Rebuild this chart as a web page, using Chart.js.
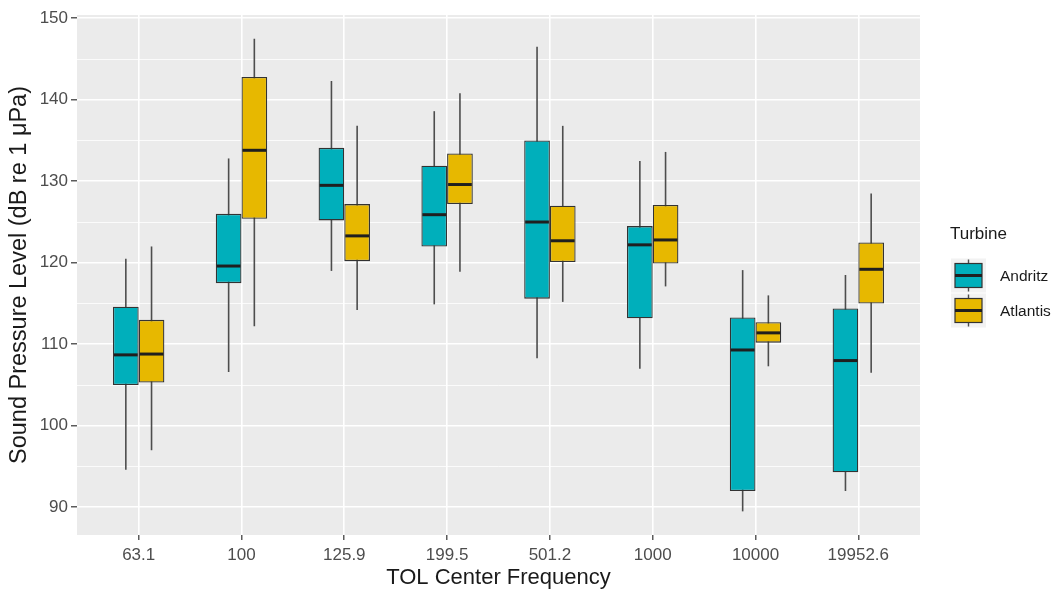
<!DOCTYPE html>
<html>
<head>
<meta charset="utf-8">
<script src="https://cdn.jsdelivr.net/npm/chart.js@4/dist/chart.umd.min.js"></script>
<style>
  html, body { margin: 0; padding: 0; background: #fff; }
  #wrap { width: 1056px; height: 591px; }
</style>
</head>
<body>
<div id="wrap"><canvas id="chart" width="1056" height="591"></canvas></div>
<script>
// x categories: TOL center frequency
const frequencies = ['63.1', '100', '125.9', '199.5', '501.2', '1000', '10000', '19952.6'];

// Andritz box stats (dB re 1 µPa)
const andritzMin    = [94.6, 106.6, 119.0, 114.9, 108.3, 107.0, 89.5, 92.0];
const andritzQ1     = [105.0, 117.5, 125.2, 122.0, 115.6, 113.2, 92.0, 94.3];
const andritzMedian = [108.7, 119.6, 129.5, 125.9, 125.0, 122.2, 109.3, 108.0];
const andritzQ3     = [114.6, 126.0, 134.1, 131.9, 135.0, 124.5, 113.3, 114.4];
const andritzMax    = [120.5, 132.8, 142.3, 138.6, 146.5, 132.5, 119.1, 118.5];

// Atlantis box stats
const atlantisMin    = [97.0, 112.2, 114.2, 118.9, 115.2, 117.1, 107.3, 106.5];
const atlantisQ1     = [105.3, 125.4, 120.2, 127.2, 120.1, 119.9, 110.2, 115.0];
const atlantisMedian = [108.8, 133.8, 123.3, 129.6, 122.7, 122.8, 111.4, 119.2];
const atlantisQ3     = [113.0, 142.8, 127.2, 133.4, 127.0, 127.1, 112.7, 122.5];
const atlantisMax    = [122.0, 147.5, 136.8, 140.8, 136.8, 133.6, 116.0, 128.5];

const yTicks = [90, 100, 110, 120, 130, 140, 150];

const andritzColor = '#00AFBB';
const atlantisColor = '#E7B800';
const fontFamily = '"Liberation Sans", Arial, Helvetica, sans-serif';

// grey panel + white page
const panelBackground = {
    id: 'panelBackground',
    beforeDraw(chart) {
        const { ctx, chartArea: a } = chart;
        ctx.save();
        ctx.fillStyle = '#ffffff';
        ctx.fillRect(0, 0, chart.width, chart.height);
        ctx.fillStyle = '#EBEBEB';
        ctx.fillRect(a.left, a.top, a.right - a.left, a.bottom - a.top);
        ctx.restore();
    }
};

// whiskers behind the boxes, medians on top
const boxParts = {
    id: 'boxParts',
    beforeDatasetsDraw(chart) {
        const y = chart.scales.y;
        const ctx = chart.ctx;
        ctx.save();
        ctx.strokeStyle = '#4d4d4d';
        ctx.lineWidth = 1.6;
        chart.data.datasets.forEach((ds, i) => {
            chart.getDatasetMeta(i).data.forEach((bar, j) => {
                ctx.beginPath();
                ctx.moveTo(bar.x, y.getPixelForValue(ds.whiskerLow[j]));
                ctx.lineTo(bar.x, y.getPixelForValue(ds.whiskerHigh[j]));
                ctx.stroke();
            });
        });
        ctx.restore();
    },
    afterDatasetsDraw(chart) {
        const y = chart.scales.y;
        const ctx = chart.ctx;
        ctx.save();
        ctx.strokeStyle = '#1f1f1f';
        ctx.lineWidth = 3;
        chart.data.datasets.forEach((ds, i) => {
            chart.getDatasetMeta(i).data.forEach((bar, j) => {
                const py = y.getPixelForValue(ds.median[j]);
                ctx.beginPath();
                ctx.moveTo(bar.x - bar.width / 2 + 1, py);
                ctx.lineTo(bar.x + bar.width / 2 - 1, py);
                ctx.stroke();
            });
        });
        ctx.restore();
    }
};

// ggplot-style legend on the right
const turbineLegend = {
    id: 'turbineLegend',
    afterDraw(chart) {
        const ctx = chart.ctx;
        const a = chart.chartArea;
        const mid = (a.top + a.bottom) / 2;
        ctx.save();
        ctx.fillStyle = '#1a1a1a';
        ctx.font = '17px ' + fontFamily;
        ctx.textBaseline = 'middle';
        ctx.textAlign = 'left';
        ctx.fillText('Turbine', 950, mid - 41);

        chart.data.datasets.forEach((ds, i) => {
            const cy = mid + 0.5 + i * 35;
            const kx = 951, kw = 35, kh = 34;
            ctx.fillStyle = '#F2F2F2';
            ctx.fillRect(kx, cy - kh / 2, kw, kh);
            const cx = kx + kw / 2;
            ctx.strokeStyle = '#4d4d4d';
            ctx.lineWidth = 1.4;
            ctx.beginPath();
            ctx.moveTo(cx, cy - 16);
            ctx.lineTo(cx, cy + 16);
            ctx.stroke();
            ctx.fillStyle = ds.backgroundColor;
            ctx.fillRect(kx + 4, cy - 12, kw - 8, 24);
            ctx.strokeStyle = '#333333';
            ctx.lineWidth = 1.2;
            ctx.strokeRect(kx + 4, cy - 12, kw - 8, 24);
            ctx.strokeStyle = '#1f1f1f';
            ctx.lineWidth = 3;
            ctx.beginPath();
            ctx.moveTo(kx + 4, cy);
            ctx.lineTo(kx + kw - 4, cy);
            ctx.stroke();

            ctx.fillStyle = '#1a1a1a';
            ctx.font = '15.5px ' + fontFamily;
            ctx.fillText(ds.label, 1000, cy + 1);
        });
        ctx.restore();
    }
};

function boxData(q1, q3) {
    return frequencies.map((f, i) => ({ x: i, y: [q1[i], q3[i]] }));
}

const ctx = document.getElementById('chart').getContext('2d');
new Chart(ctx, {
    type: 'bar',
    data: {
        datasets: [{
            label: 'Andritz',
            data: boxData(andritzQ1, andritzQ3),
            median: andritzMedian,
            whiskerLow: andritzMin,
            whiskerHigh: andritzMax,
            backgroundColor: andritzColor,
            borderColor: '#333333',
            borderWidth: 1.3,
            borderSkipped: false,
            categoryPercentage: 0.5,
            barPercentage: 1.0
        }, {
            label: 'Atlantis',
            data: boxData(atlantisQ1, atlantisQ3),
            median: atlantisMedian,
            whiskerLow: atlantisMin,
            whiskerHigh: atlantisMax,
            backgroundColor: atlantisColor,
            borderColor: '#333333',
            borderWidth: 1.3,
            borderSkipped: false,
            categoryPercentage: 0.5,
            barPercentage: 1.0
        }]
    },
    options: {
        responsive: false,
        animation: false,
        layout: { padding: { top: 15, right: 136, left: 0, bottom: 0 } },
        plugins: {
            legend: { display: false },
            tooltip: { enabled: false }
        },
        scales: {
            x: {
                type: 'linear',
                offset: false,
                min: -0.6,
                max: frequencies.length - 0.4,
                afterBuildTicks: axis => {
                    axis.ticks = frequencies.map((f, i) => ({ value: i }));
                },
                afterFit: scale => { scale.height = 56; },
                grid: {
                    offset: false,
                    color: '#ffffff',
                    lineWidth: 1.6,
                    tickColor: '#333333',
                    tickLength: 5,
                    tickWidth: 1.2
                },
                border: { display: false },
                ticks: {
                    autoSkip: false,
                    maxRotation: 0,
                    padding: 5,
                    color: '#4D4D4D',
                    font: { family: fontFamily, size: 17 },
                    callback: value => frequencies[value]
                },
                title: {
                    display: true,
                    text: 'TOL Center Frequency',
                    color: '#1a1a1a',
                    font: { family: fontFamily, size: 22, lineHeight: 1.2 },
                    padding: { top: 0, bottom: 0 }
                }
            },
            y: {
                min: 86.6,
                max: 150.4,
                afterFit: scale => { scale.width = 77; },
                grid: {
                    color: '#ffffff',
                    lineWidth: c => (yTicks.includes(c.tick.value) ? 1.6 : 0.8),
                    tickColor: c => (yTicks.includes(c.tick.value) ? '#333333' : 'rgba(0,0,0,0)'),
                    tickLength: 6,
                    tickWidth: 1.2
                },
                border: { display: false },
                ticks: {
                    stepSize: 5,
                    includeBounds: false,
                    padding: 3,
                    color: '#4D4D4D',
                    font: { family: fontFamily, size: 17 },
                    callback: value => (yTicks.includes(value) ? value : '')
                },
                title: {
                    display: true,
                    text: 'Sound Pressure Level (dB re 1 μPa)',
                    color: '#1a1a1a',
                    font: { family: fontFamily, size: 23.5, lineHeight: 1.2 },
                    padding: { top: 5, bottom: 0 }
                }
            }
        }
    },
    plugins: [panelBackground, boxParts, turbineLegend]
});
</script>
</body>
</html>
